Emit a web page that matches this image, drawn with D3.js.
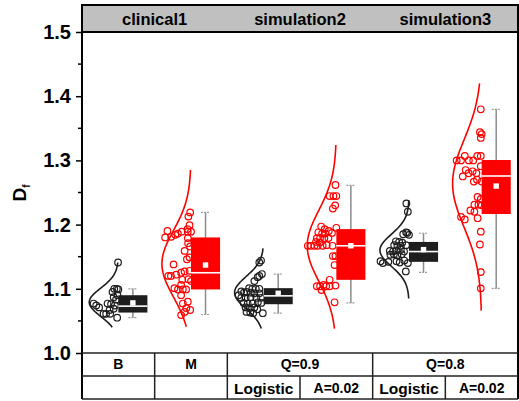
<!DOCTYPE html>
<html>
<head>
<meta charset="utf-8">
<script src="https://cdn.jsdelivr.net/npm/d3@7"></script>
<style>
  body { margin: 0; background: #fff; }
  svg { display: block; font-family: Arial, "Liberation Sans", sans-serif; }
</style>
</head>
<body>
<svg id="chart" width="519" height="401"></svg>
<script>
// ---- data ---------------------------------------------------------------
const groups = ["B", "M", "Q0.9-Logistic", "Q0.9-A0.02", "Q0.8-Logistic", "Q0.8-A0.02"];

// individual observations: [Df value, horizontal spread 0..1 inside the half-violin]
const pointsB = [
  [1.141,0.01],[1.100,0.14],[1.100,0.05],[1.099,0.00],[1.095,0.20],[1.090,0.03],
  [1.087,0.16],[1.083,0.08],[1.077,0.37],[1.076,0.25],[1.077,0.85],[1.074,0.76],
  [1.071,0.66],[1.074,0.12],[1.069,0.16],[1.067,0.30],[1.061,0.51],[1.061,0.42],
  [1.061,0.28],[1.055,0.04]
];
const pointsM = [
  [1.219,0.03],[1.2125,0.09],[1.199,0.05],[1.193,0.12],[1.189,0.00],[1.189,0.11],
  [1.189,0.32],[1.186,0.45],[1.190,0.81],[1.180,0.89],[1.181,0.68],[1.184,0.54],
  [1.179,0.11],[1.171,0.10],[1.166,0.03],[1.159,0.22],[1.149,0.05],[1.146,0.14],
  [1.138,0.60],[1.128,0.05],[1.127,0.22],[1.125,0.34],[1.122,0.51],[1.120,0.69],
  [1.120,0.78],[1.115,0.09],[1.114,0.30],[1.112,0.00],[1.106,0.34],[1.101,0.57],
  [1.099,0.45],[1.099,0.28],[1.099,0.17],[1.090,0.34],[1.080,0.11],[1.077,0.28],
  [1.070,0.16],[1.067,0.03],[1.064,0.22],[1.059,0.34]
];
const pointsQ09Logistic = [
  [1.144,0.09],[1.141,0.15],[1.123,0.06],[1.120,0.15],[1.118,0.21],[1.112,0.32],
  [1.100,0.15],[1.100,0.27],[1.100,0.39],[1.101,0.50],[1.095,0.59],[1.096,0.77],
  [1.094,0.68],[1.090,0.86],[1.094,0.44],[1.093,0.32],[1.093,0.15],[1.086,0.77],
  [1.086,0.62],[1.087,0.45],[1.086,0.25],[1.086,0.09],[1.078,0.69],[1.077,0.55],
  [1.077,0.38],[1.079,0.20],[1.078,0.08],[1.071,0.62],[1.070,0.48],[1.071,0.32],
  [1.068,0.22],[1.064,0.59],[1.063,0.46],[1.062,0.36],[1.062,0.03]
];
const pointsQ09A = [
  [1.2617,0.03],[1.2445,0.23],[1.2445,0.10],[1.2445,0.00],[1.230,0.04],[1.225,0.12],
  [1.197,0.52],[1.193,0.40],[1.190,0.26],[1.187,0.15],[1.195,0.00],[1.188,0.62],
  [1.186,0.49],[1.186,0.38],[1.179,0.67],[1.179,0.56],[1.179,0.41],[1.179,0.27],
  [1.167,0.98],[1.167,0.87],[1.167,0.75],[1.167,0.64],[1.167,0.47],[1.168,0.33],
  [1.167,0.13],[1.173,0.70],[1.172,0.57],[1.151,0.12],[1.151,0.03],[1.137,0.06],
  [1.114,0.23],[1.104,0.67],[1.104,0.56],[1.106,0.44],[1.104,0.35],[1.104,0.23],
  [1.105,0.03],[1.098,0.51],[1.079,0.06]
];
const pointsQ08Logistic = [
  [1.233,0.09],[1.220,0.04],[1.188,0.10],[1.187,0.06],[1.185,0.20],[1.184,0.00],
  [1.174,0.45],[1.173,0.34],[1.172,0.23],[1.168,0.51],[1.167,0.40],[1.167,0.28],
  [1.168,0.10],[1.159,0.66],[1.158,0.55],[1.160,0.43],[1.161,0.28],[1.158,0.17],
  [1.153,0.64],[1.154,0.52],[1.152,0.40],[1.154,0.25],[1.143,0.98],[1.140,0.90],
  [1.142,0.71],[1.143,0.43],[1.141,0.32],[1.144,0.16],[1.140,0.04],[1.127,0.11]
];
const pointsQ08A = [
  [1.3796,0.03],[1.344,0.06],[1.341,0.00],[1.335,0.03],[1.300,0.86],[1.300,0.71],
  [1.307,0.58],[1.300,0.44],[1.300,0.29],[1.307,0.15],[1.307,0.03],[1.291,0.03],
  [1.285,0.55],[1.280,0.45],[1.283,0.31],[1.280,0.18],[1.275,0.65],[1.267,0.27],
  [1.270,0.16],[1.267,0.00],[1.243,0.14],[1.240,0.03],[1.231,0.25],[1.231,0.11],
  [1.230,0.00],[1.222,0.39],[1.220,0.25],[1.210,0.14],[1.212,0.71],[1.208,0.58],
  [1.189,0.03],[1.169,0.06],[1.126,0.03],[1.1007,0.03]
];
const pointSets = [pointsB, pointsM, pointsQ09Logistic, pointsQ09A, pointsQ08Logistic, pointsQ08A];

// box statistics per group
const boxQ1      = [1.063, 1.099, 1.076, 1.114, 1.142, 1.2165];
const boxMedian  = [1.073, 1.125, 1.089, 1.167, 1.158, 1.2757];
const boxQ3      = [1.090, 1.180, 1.101, 1.193, 1.173, 1.3006];
const whiskerLow = [1.055, 1.060, 1.062, 1.078, 1.1257, 1.1007];
const whiskerHigh= [1.100, 1.219, 1.123, 1.261, 1.1865, 1.3796];
const groupMean  = [1.078, 1.137, 1.093, 1.167, 1.161, 1.260];

// normal curve per group: centre, standard deviation and drawn extent
const curveMean  = [1.079, 1.139, 1.094, 1.167, 1.160, 1.264];
const curveSD    = [0.022, 0.0515, 0.025, 0.055, 0.025, 0.068];
const curveLow   = [1.040, 1.041, 1.038, 1.038, 1.085, 1.066];
const curveHigh  = [1.141, 1.285, 1.163, 1.324, 1.238, 1.420];

// labels
const yTicks = [1.0, 1.1, 1.2, 1.3, 1.4, 1.5];
const yMinorTicks = [1.05, 1.15, 1.25, 1.35, 1.45];
const headerLabels = ["clinical1", "simulation2", "simulation3"];
const headerSpans = [[0, 1], [2, 3], [4, 5]];
const tableRow1Labels = ["B", "M", "Q=0.9", "Q=0.8"];
const tableRow1Spans = [[0, 0], [1, 1], [2, 3], [4, 5]];
const tableRow2Labels = ["", "", "Logistic", "A=0.02", "Logistic", "A=0.02"];

// ---- styles & layout ----------------------------------------------------
const groupColors = ["#1e1e1e", "#ff0000", "#1e1e1e", "#ff0000", "#1e1e1e", "#ff0000"];
const L = 82, R = 518, headTop = 5, plotTop = 32, plotBottom = 353, row1Bottom = 376, tableBottom = 399;

const svg = d3.select("#chart");

const x = d3.scaleBand().domain(groups).range([L, R]).padding(0);
const bw = x.bandwidth();
const halfW = bw * 0.4;          // width of the half-violin and of the box
const y = d3.scaleLinear().domain([1.0, 1.5]).range([plotBottom, plotTop]);
const spread = d3.scaleLinear().domain([0, 1]).range([0, halfW]);

const centre = g => x(g) + bw / 2;

// ---- header strip -------------------------------------------------------
svg.append("rect")
  .attr("x", L).attr("y", headTop).attr("width", R - L).attr("height", plotTop - headTop)
  .attr("fill", "#c0c0c0").attr("stroke", "#000").attr("stroke-width", 2);
headerLabels.forEach((t, i) => {
  const [a, b] = headerSpans[i];
  const cx = (x(groups[a]) + x(groups[b]) + bw) / 2;
  svg.append("text").attr("x", cx).attr("y", 25)
    .attr("text-anchor", "middle").attr("font-weight", "bold").attr("font-size", 16.5)
    .text(t);
});

// ---- groups -------------------------------------------------------------
groups.forEach((g, i) => {
  const cx = centre(g);
  const col = groupColors[i];
  const gg = svg.append("g");

  // half normal curve on the left of the group centre
  const vs = d3.range(0, 101).map(k => curveLow[i] + (curveHigh[i] - curveLow[i]) * k / 100);
  const line = d3.line()
    .x(v => cx - halfW * Math.exp(-Math.pow(v - curveMean[i], 2) / (2 * curveSD[i] * curveSD[i])))
    .y(v => y(v))
    .curve(d3.curveBasis);
  gg.append("path").attr("d", line(vs)).attr("fill", "none")
    .attr("stroke", col).attr("stroke-width", 1.6);

  // observations
  gg.selectAll("circle.pt").data(pointSets[i]).enter().append("circle")
    .attr("class", "pt")
    .attr("cx", d => cx - spread(d[1]))
    .attr("cy", d => y(d[0]))
    .attr("r", 3.3)
    .attr("fill", "none").attr("stroke", col).attr("stroke-width", 1.2);

  // whiskers
  const bx = cx, wx = cx + halfW / 2;
  gg.append("line").attr("x1", wx).attr("x2", wx)
    .attr("y1", y(whiskerHigh[i])).attr("y2", y(whiskerLow[i]))
    .attr("stroke", "#8c8c8c").attr("stroke-width", 1.5);
  [whiskerHigh[i], whiskerLow[i]].forEach(v => {
    gg.append("line").attr("x1", wx - 4.5).attr("x2", wx + 4.5)
      .attr("y1", y(v)).attr("y2", y(v))
      .attr("stroke", "#9a9a9a").attr("stroke-width", 1.2).attr("stroke-dasharray", "2,1");
  });

  // box
  gg.append("rect").attr("x", bx).attr("width", halfW)
    .attr("y", y(boxQ3[i])).attr("height", y(boxQ1[i]) - y(boxQ3[i]))
    .attr("fill", col);
  gg.append("line").attr("x1", bx).attr("x2", bx + halfW)
    .attr("y1", y(boxMedian[i])).attr("y2", y(boxMedian[i]))
    .attr("stroke", "#fff").attr("stroke-width", 1.6);
  gg.append("rect").attr("x", wx - 2.7).attr("y", y(groupMean[i]) - 2.7)
    .attr("width", 5.4).attr("height", 5.4).attr("fill", "#fff");
});

// ---- axes & frame -------------------------------------------------------
const axis = d3.axisLeft(y).tickValues(yTicks).tickSize(6).tickPadding(5)
  .tickFormat(d3.format(".1f"));
const ax = svg.append("g").attr("transform", `translate(${L},0)`).call(axis);
ax.select(".domain").remove();
ax.selectAll(".tick line").attr("stroke", "#000").attr("stroke-width", 1.5);
ax.selectAll(".tick text").attr("font-size", 20).attr("font-weight", "bold")
  .attr("font-family", "Arial, 'Liberation Sans', sans-serif").attr("fill", "#000");
yMinorTicks.forEach(v => {
  svg.append("line").attr("x1", L - 4).attr("x2", L).attr("y1", y(v)).attr("y2", y(v))
    .attr("stroke", "#000").attr("stroke-width", 1.5);
});

// plot frame lines
const frame = svg.append("g").attr("stroke", "#000").attr("stroke-width", 2);
frame.append("line").attr("x1", L).attr("x2", L).attr("y1", headTop).attr("y2", tableBottom);
frame.append("line").attr("x1", R).attr("x2", R).attr("y1", headTop).attr("y2", tableBottom);

// ---- category table under the plot --------------------------------------
const tbl = svg.append("g").attr("stroke", "#222").attr("stroke-width", 1.5);
[plotBottom, row1Bottom, tableBottom].forEach(yy => {
  tbl.append("line").attr("x1", L).attr("x2", R).attr("y1", yy).attr("y2", yy);
});
tableRow1Spans.forEach(([a, b], k) => {
  if (k > 0) tbl.append("line").attr("x1", x(groups[a])).attr("x2", x(groups[a]))
    .attr("y1", plotBottom).attr("y2", tableBottom);
  const cx = (x(groups[a]) + x(groups[b]) + bw) / 2;
  svg.append("text").attr("x", cx).attr("y", 368.5).attr("text-anchor", "middle")
    .attr("font-weight", "bold").attr("font-size", 14).text(tableRow1Labels[k]);
});
groups.forEach((g, i) => {
  // second-row dividers inside the Q=0.9 and Q=0.8 spans
  if (i === 3 || i === 5) {
    tbl.append("line").attr("x1", x(g)).attr("x2", x(g)).attr("y1", row1Bottom).attr("y2", tableBottom);
  }
  if (tableRow2Labels[i]) {
    const isName = tableRow2Labels[i] === "Logistic";
    svg.append("text").attr("x", centre(g)).attr("y", isName ? 394 : 393)
      .attr("text-anchor", "middle").attr("font-weight", "bold")
      .attr("font-size", isName ? 15.5 : 14).text(tableRow2Labels[i]);
  }
});

// ---- y axis title -------------------------------------------------------
const title = svg.append("text")
  .attr("transform", "translate(26,193) rotate(-90)")
  .attr("text-anchor", "middle").attr("font-weight", "bold").attr("font-size", 19);
title.append("tspan").text("D");
title.append("tspan").attr("font-size", 10).attr("dy", 4).text("f");
</script>
</body>
</html>
